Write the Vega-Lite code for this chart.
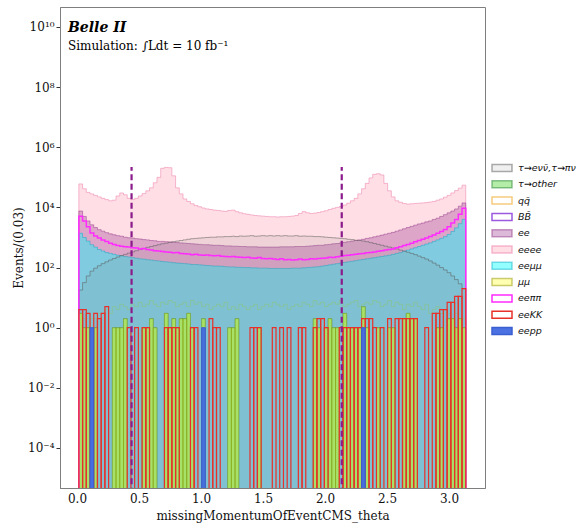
{
  "$schema": "https://vega.github.io/schema/vega-lite/v6.json",
  "width": 425,
  "height": 481,
  "autosize": {"type": "none"},
  "padding": {"left": 60, "top": 7, "right": 93, "bottom": 36},
  "background": "white",
  "title": {
    "text": "Belle II",
    "subtitle": "Simulation: ∫Ldt = 10 fb⁻¹",
    "anchor": "start",
    "frame": "group",
    "offset": -45,
    "dx": 8,
    "font": "DejaVu Serif",
    "fontSize": 14,
    "fontWeight": "bold",
    "fontStyle": "italic",
    "color": "#000000",
    "subtitleFont": "DejaVu Serif",
    "subtitleFontSize": 12,
    "subtitleColor": "#000000",
    "subtitlePadding": 6
  },
  "encoding": {
    "x": {
      "field": "x0",
      "type": "quantitative",
      "scale": {"domain": [-0.1371, 3.2903], "nice": false, "zero": false},
      "title": "missingMomentumOfEventCMS_theta",
      "axis": {"values": [0, 0.5, 1, 1.5, 2, 2.5, 3], "format": ".1f", "ticks": false, "labelPadding": 5, "titlePadding": 6, "labelFlush": false}
    }
  },
  "layer": [
    {
      "data": {
        "values": [
          {"x0": 0.015, "x1": 0.045, "tau_lep": 17.8, "tau_other": 3, "qq": 1, "ee": 7590, "eeee": 60300, "eemumu": 1380, "mumu": 3, "eepipi": 5130, "eeKK": 4},
          {"x0": 0.045, "x1": 0.075, "tau_lep": 31.6, "tau_other": 1, "qq": 2, "ee": 5010, "eeee": 41700, "eemumu": 1000, "mumu": 1, "eepipi": 3550, "eeKK": 4},
          {"x0": 0.075, "x1": 0.105, "tau_lep": 52.5, "tau_other": 1, "qq": 1, "ee": 3550, "eeee": 31600, "eemumu": 759, "mumu": 1, "eepipi": 2290, "eeKK": 3},
          {"x0": 0.105, "x1": 0.135, "tau_lep": 75.9, "qq": 2, "ee": 2630, "eeee": 28200, "eemumu": 575, "eepipi": 1410, "eepp": 1},
          {"x0": 0.135, "x1": 0.165, "tau_lep": 95.5, "tau_other": 1, "qq": 2, "ee": 2140, "eeee": 25100, "eemumu": 479, "mumu": 1, "eepipi": 1120, "eeKK": 3},
          {"x0": 0.165, "x1": 0.195, "tau_lep": 115, "qq": 3, "ee": 1820, "eeee": 22400, "eemumu": 398, "eepipi": 955, "eeKK": 2},
          {"x0": 0.195, "x1": 0.225, "tau_lep": 135, "qq": 3, "ee": 1620, "eeee": 20000, "eemumu": 355, "eepipi": 832, "eeKK": 3},
          {"x0": 0.225, "x1": 0.255, "tau_lep": 155, "qq": 4, "ee": 1450, "eeee": 18200, "eemumu": 316, "eepipi": 741, "eeKK": 5},
          {"x0": 0.255, "x1": 0.285, "tau_lep": 178, "qq": 3, "ee": 1320, "eeee": 16600, "eemumu": 295, "eepipi": 646},
          {"x0": 0.285, "x1": 0.315, "tau_lep": 200, "tau_other": 1, "qq": 5, "ee": 1230, "eeee": 17400, "eemumu": 275, "mumu": 1, "eepipi": 589},
          {"x0": 0.315, "x1": 0.345, "tau_lep": 224, "tau_other": 1, "qq": 4, "ee": 1150, "eeee": 24000, "eemumu": 257, "mumu": 1, "eepipi": 537},
          {"x0": 0.345, "x1": 0.375, "tau_lep": 251, "tau_other": 1, "qq": 6, "ee": 1100, "eeee": 30200, "eemumu": 245, "mumu": 1, "eepipi": 513},
          {"x0": 0.375, "x1": 0.405, "tau_lep": 275, "tau_other": 2, "qq": 5, "ee": 1020, "eeee": 26300, "eemumu": 234, "mumu": 2, "eepipi": 490},
          {"x0": 0.405, "x1": 0.435, "tau_lep": 302, "qq": 4, "ee": 977, "eeee": 20000, "eemumu": 224, "eepipi": 479, "eeKK": 1},
          {"x0": 0.435, "x1": 0.465, "tau_lep": 331, "qq": 6, "ee": 955, "eeee": 18200, "eemumu": 214, "eepipi": 457},
          {"x0": 0.465, "x1": 0.495, "tau_lep": 363, "qq": 5, "ee": 912, "eeee": 20000, "eemumu": 204, "eepipi": 447, "eeKK": 1},
          {"x0": 0.495, "x1": 0.525, "tau_lep": 398, "qq": 7, "ee": 891, "eeee": 24000, "eemumu": 195, "eepipi": 417},
          {"x0": 0.525, "x1": 0.555, "tau_lep": 427, "tau_other": 1, "qq": 5, "ee": 851, "eeee": 28800, "eemumu": 191, "mumu": 1, "eepipi": 427, "eeKK": 1},
          {"x0": 0.555, "x1": 0.585, "tau_lep": 468, "tau_other": 1, "qq": 6, "ee": 832, "eeee": 35500, "eemumu": 182, "mumu": 1, "eepipi": 398, "eeKK": 1},
          {"x0": 0.585, "x1": 0.615, "tau_lep": 501, "tau_other": 2, "qq": 8, "ee": 794, "eeee": 44700, "eemumu": 178, "mumu": 2, "eepipi": 380},
          {"x0": 0.615, "x1": 0.645, "tau_lep": 537, "tau_other": 1, "qq": 6, "ee": 776, "eeee": 66100, "eemumu": 170, "mumu": 1, "eepipi": 363},
          {"x0": 0.645, "x1": 0.675, "tau_lep": 575, "qq": 5, "ee": 741, "eeee": 100000, "eemumu": 166, "eepipi": 355},
          {"x0": 0.675, "x1": 0.705, "tau_lep": 617, "qq": 7, "ee": 741, "eeee": 200000, "eemumu": 158, "eepipi": 339},
          {"x0": 0.705, "x1": 0.735, "tau_lep": 646, "tau_other": 3, "qq": 6, "ee": 724, "eeee": 214000, "eemumu": 155, "mumu": 3, "eepipi": 331, "eeKK": 1},
          {"x0": 0.735, "x1": 0.765, "tau_lep": 692, "tau_other": 1, "qq": 8, "ee": 708, "eeee": 209000, "eemumu": 151, "mumu": 1, "eepipi": 324, "eeKK": 1},
          {"x0": 0.765, "x1": 0.795, "tau_lep": 724, "tau_other": 2, "qq": 7, "ee": 692, "eeee": 112000, "eemumu": 145, "mumu": 2, "eepipi": 309, "eeKK": 1},
          {"x0": 0.795, "x1": 0.825, "tau_lep": 759, "tau_other": 1, "qq": 5, "ee": 676, "eeee": 44700, "eemumu": 141, "mumu": 1, "eepipi": 316, "eeKK": 1},
          {"x0": 0.825, "x1": 0.855, "tau_lep": 794, "tau_other": 2, "qq": 6, "ee": 661, "eeee": 28200, "eemumu": 138, "mumu": 2, "eepipi": 295},
          {"x0": 0.855, "x1": 0.885, "tau_lep": 832, "tau_other": 2, "qq": 7, "ee": 646, "eeee": 19100, "eemumu": 135, "mumu": 2, "eepipi": 288},
          {"x0": 0.885, "x1": 0.915, "tau_lep": 871, "tau_other": 3, "qq": 5, "ee": 631, "eeee": 15800, "eemumu": 132, "mumu": 3, "eepipi": 282},
          {"x0": 0.915, "x1": 0.945, "tau_lep": 912, "tau_other": 1, "qq": 8, "ee": 617, "eeee": 13200, "eemumu": 126, "mumu": 1, "eepipi": 269, "eeKK": 1},
          {"x0": 0.945, "x1": 0.975, "tau_lep": 933, "qq": 6, "ee": 603, "eeee": 11500, "eemumu": 126, "eepipi": 275, "eeKK": 1},
          {"x0": 0.975, "x1": 1.005, "tau_lep": 955, "qq": 7, "ee": 589, "eeee": 10500, "eemumu": 123, "eepipi": 263},
          {"x0": 1.005, "x1": 1.035, "tau_lep": 977, "tau_other": 2, "qq": 5, "ee": 575, "eeee": 9550, "eemumu": 120, "mumu": 2, "eepipi": 257, "eepp": 1},
          {"x0": 1.035, "x1": 1.065, "tau_lep": 1000, "qq": 6, "ee": 575, "eeee": 8910, "eemumu": 117, "eepipi": 263},
          {"x0": 1.065, "x1": 1.095, "tau_lep": 1020, "qq": 4, "ee": 562, "eeee": 8510, "eemumu": 115, "eepipi": 251, "eeKK": 2},
          {"x0": 1.095, "x1": 1.125, "tau_lep": 1020, "qq": 5, "ee": 550, "eeee": 8130, "eemumu": 112, "eepipi": 245, "eeKK": 1},
          {"x0": 1.125, "x1": 1.155, "tau_lep": 1050, "qq": 6, "ee": 550, "eeee": 7940, "eemumu": 112, "eepipi": 251, "eeKK": 1},
          {"x0": 1.155, "x1": 1.185, "tau_lep": 1050, "qq": 5, "ee": 537, "eeee": 7590, "eemumu": 110, "eepipi": 240},
          {"x0": 1.185, "x1": 1.215, "tau_lep": 1070, "qq": 7, "ee": 525, "eeee": 7410, "eemumu": 107, "eepipi": 234},
          {"x0": 1.215, "x1": 1.245, "tau_lep": 1070, "tau_other": 1, "qq": 4, "ee": 525, "eeee": 7940, "eemumu": 105, "mumu": 1, "eepipi": 229},
          {"x0": 1.245, "x1": 1.275, "tau_lep": 1100, "tau_other": 1, "qq": 5, "ee": 513, "eeee": 8130, "eemumu": 105, "mumu": 1, "eepipi": 234},
          {"x0": 1.275, "x1": 1.305, "tau_lep": 1070, "tau_other": 2, "qq": 4, "ee": 513, "eeee": 7240, "eemumu": 102, "mumu": 2, "eepipi": 224},
          {"x0": 1.305, "x1": 1.335, "tau_lep": 1120, "qq": 6, "ee": 501, "eeee": 6610, "eemumu": 102, "eepipi": 219},
          {"x0": 1.335, "x1": 1.365, "tau_lep": 1100, "qq": 5, "ee": 501, "eeee": 6170, "eemumu": 100, "eepipi": 214},
          {"x0": 1.365, "x1": 1.395, "tau_lep": 1120, "qq": 4, "ee": 490, "eeee": 5890, "eemumu": 100, "eepipi": 219},
          {"x0": 1.395, "x1": 1.425, "tau_lep": 1150, "qq": 5, "ee": 490, "eeee": 5620, "eemumu": 97.7, "eepipi": 209, "eeKK": 1},
          {"x0": 1.425, "x1": 1.455, "tau_lep": 1100, "qq": 6, "ee": 490, "eeee": 5370, "eemumu": 97.7, "eepipi": 204, "eeKK": 1},
          {"x0": 1.455, "x1": 1.485, "tau_lep": 1120, "tau_other": 1, "qq": 4, "ee": 479, "eeee": 5250, "eemumu": 95.5, "mumu": 1, "eepipi": 214, "eeKK": 1},
          {"x0": 1.485, "x1": 1.515, "tau_lep": 1150, "qq": 5, "ee": 479, "eeee": 5130, "eemumu": 95.5, "eepipi": 200},
          {"x0": 1.515, "x1": 1.545, "tau_lep": 1120, "qq": 6, "ee": 479, "eeee": 5010, "eemumu": 95.5, "eepipi": 195},
          {"x0": 1.545, "x1": 1.575, "tau_lep": 1150, "qq": 5, "ee": 479, "eeee": 4900, "eemumu": 93.3, "eepipi": 200},
          {"x0": 1.575, "x1": 1.605, "tau_lep": 1120, "qq": 7, "ee": 479, "eeee": 4900, "eemumu": 93.3, "eepipi": 191, "eeKK": 1},
          {"x0": 1.605, "x1": 1.635, "tau_lep": 1150, "qq": 6, "ee": 479, "eeee": 4790, "eemumu": 93.3, "eepipi": 186},
          {"x0": 1.635, "x1": 1.665, "tau_lep": 1120, "qq": 5, "ee": 490, "eeee": 4900, "eemumu": 93.3, "eepipi": 195, "eeKK": 1},
          {"x0": 1.665, "x1": 1.695, "tau_lep": 1150, "qq": 6, "ee": 490, "eeee": 4900, "eemumu": 93.3, "eepipi": 182},
          {"x0": 1.695, "x1": 1.725, "tau_lep": 1120, "qq": 4, "ee": 490, "eeee": 5010, "eemumu": 93.3, "eepipi": 186, "eeKK": 1},
          {"x0": 1.725, "x1": 1.755, "tau_lep": 1120, "qq": 5, "ee": 490, "eeee": 5130, "eemumu": 95.5, "eepipi": 178},
          {"x0": 1.755, "x1": 1.785, "tau_lep": 1150, "qq": 6, "ee": 501, "eeee": 5370, "eemumu": 95.5, "eepipi": 182},
          {"x0": 1.785, "x1": 1.815, "tau_lep": 1100, "qq": 5, "ee": 501, "eeee": 6310, "eemumu": 95.5, "eepipi": 191, "eeKK": 1},
          {"x0": 1.815, "x1": 1.845, "tau_lep": 1120, "qq": 7, "ee": 501, "eeee": 7240, "eemumu": 97.7, "eepipi": 182, "eeKK": 1},
          {"x0": 1.845, "x1": 1.875, "tau_lep": 1100, "qq": 6, "ee": 513, "eeee": 6610, "eemumu": 100, "eepipi": 186},
          {"x0": 1.875, "x1": 1.905, "tau_lep": 1100, "qq": 5, "ee": 525, "eeee": 6310, "eemumu": 102, "eepipi": 195},
          {"x0": 1.905, "x1": 1.935, "tau_lep": 1070, "tau_other": 2, "qq": 8, "ee": 537, "eeee": 6460, "eemumu": 105, "mumu": 2, "eepipi": 191, "eeKK": 1},
          {"x0": 1.935, "x1": 1.965, "tau_lep": 1070, "tau_other": 1, "qq": 6, "ee": 550, "eeee": 6760, "eemumu": 107, "mumu": 1, "eepipi": 200, "eeKK": 2},
          {"x0": 1.965, "x1": 1.995, "tau_lep": 1050, "qq": 7, "ee": 550, "eeee": 7240, "eemumu": 112, "eepipi": 204, "eeKK": 2},
          {"x0": 1.995, "x1": 2.025, "tau_lep": 1020, "tau_other": 1, "qq": 5, "ee": 575, "eeee": 7760, "eemumu": 117, "mumu": 1, "eepipi": 209, "eeKK": 1},
          {"x0": 2.025, "x1": 2.055, "tau_lep": 1000, "tau_other": 2, "qq": 6, "ee": 589, "eeee": 8510, "eemumu": 123, "mumu": 2, "eepipi": 219},
          {"x0": 2.055, "x1": 2.085, "tau_lep": 977, "tau_other": 1, "qq": 7, "ee": 617, "eeee": 9330, "eemumu": 129, "mumu": 1, "eepipi": 214},
          {"x0": 2.085, "x1": 2.115, "tau_lep": 955, "tau_other": 1, "qq": 6, "ee": 631, "eeee": 10000, "eemumu": 135, "mumu": 1, "eepipi": 229},
          {"x0": 2.115, "x1": 2.145, "tau_lep": 933, "qq": 8, "ee": 661, "eeee": 10700, "eemumu": 141, "eepipi": 240, "eeKK": 1},
          {"x0": 2.145, "x1": 2.175, "tau_lep": 912, "tau_other": 3, "qq": 5, "ee": 692, "eeee": 12000, "eemumu": 148, "mumu": 3, "eepipi": 251, "eeKK": 1},
          {"x0": 2.175, "x1": 2.205, "tau_lep": 871, "tau_other": 1, "qq": 6, "ee": 724, "eeee": 13800, "eemumu": 155, "mumu": 1, "eepipi": 257, "eeKK": 1},
          {"x0": 2.205, "x1": 2.235, "tau_lep": 851, "tau_other": 1, "qq": 7, "ee": 759, "eeee": 16600, "eemumu": 162, "mumu": 1, "eepipi": 269, "eeKK": 1},
          {"x0": 2.235, "x1": 2.265, "tau_lep": 813, "tau_other": 1, "qq": 8, "ee": 794, "eeee": 20000, "eemumu": 170, "mumu": 1, "eepipi": 275, "eeKK": 1},
          {"x0": 2.265, "x1": 2.295, "tau_lep": 794, "tau_other": 1, "qq": 5, "ee": 832, "eeee": 28200, "eemumu": 178, "mumu": 1, "eepipi": 288, "eeKK": 1},
          {"x0": 2.295, "x1": 2.325, "tau_lep": 759, "tau_other": 5, "qq": 6, "ee": 871, "eeee": 41700, "eemumu": 186, "mumu": 5, "eepipi": 295, "eeKK": 2, "eepp": 1},
          {"x0": 2.325, "x1": 2.355, "tau_lep": 724, "tau_other": 1, "qq": 7, "ee": 933, "eeee": 63100, "eemumu": 195, "mumu": 1, "eepipi": 309, "eeKK": 2},
          {"x0": 2.355, "x1": 2.385, "tau_lep": 676, "qq": 6, "ee": 977, "eeee": 95500, "eemumu": 204, "eepipi": 316, "eeKK": 2},
          {"x0": 2.385, "x1": 2.415, "tau_lep": 631, "qq": 8, "ee": 1050, "eeee": 126000, "eemumu": 214, "eepipi": 331, "eeKK": 1},
          {"x0": 2.415, "x1": 2.445, "tau_lep": 589, "tau_other": 1, "qq": 7, "ee": 1120, "eeee": 132000, "eemumu": 224, "mumu": 1, "eepipi": 347},
          {"x0": 2.445, "x1": 2.475, "tau_lep": 550, "qq": 5, "ee": 1200, "eeee": 120000, "eemumu": 234, "eepipi": 363, "eeKK": 1},
          {"x0": 2.475, "x1": 2.505, "tau_lep": 513, "qq": 6, "ee": 1290, "eeee": 63100, "eemumu": 245, "eepipi": 380},
          {"x0": 2.505, "x1": 2.535, "tau_lep": 479, "tau_other": 1, "qq": 8, "ee": 1380, "eeee": 35500, "eemumu": 257, "mumu": 1, "eepipi": 398, "eeKK": 2},
          {"x0": 2.535, "x1": 2.565, "tau_lep": 447, "tau_other": 1, "qq": 5, "ee": 1480, "eeee": 22400, "eemumu": 275, "mumu": 1, "eepipi": 417},
          {"x0": 2.565, "x1": 2.595, "tau_lep": 417, "qq": 7, "ee": 1620, "eeee": 16600, "eemumu": 295, "eepipi": 457, "eeKK": 2},
          {"x0": 2.595, "x1": 2.625, "tau_lep": 380, "qq": 6, "ee": 1780, "eeee": 14800, "eemumu": 316, "eepipi": 490, "eeKK": 2},
          {"x0": 2.625, "x1": 2.655, "tau_lep": 355, "tau_other": 2, "qq": 4, "ee": 1950, "eeee": 13500, "eemumu": 347, "mumu": 2, "eepipi": 537, "eeKK": 2},
          {"x0": 2.655, "x1": 2.685, "tau_lep": 324, "tau_other": 3, "qq": 6, "ee": 2140, "eeee": 12900, "eemumu": 380, "mumu": 3, "eepipi": 589, "eeKK": 2},
          {"x0": 2.685, "x1": 2.715, "tau_lep": 295, "tau_other": 2, "qq": 5, "ee": 2340, "eeee": 13200, "eemumu": 417, "mumu": 2, "eepipi": 646, "eeKK": 2},
          {"x0": 2.715, "x1": 2.745, "tau_lep": 269, "tau_other": 2, "qq": 7, "ee": 2570, "eeee": 13500, "eemumu": 457, "mumu": 2, "eepipi": 724, "eeKK": 2},
          {"x0": 2.745, "x1": 2.775, "tau_lep": 240, "qq": 5, "ee": 2820, "eeee": 13800, "eemumu": 501, "eepipi": 794},
          {"x0": 2.775, "x1": 2.805, "tau_lep": 214, "qq": 4, "ee": 3020, "eeee": 14100, "eemumu": 550, "eepipi": 871},
          {"x0": 2.805, "x1": 2.835, "tau_lep": 191, "qq": 6, "ee": 3310, "eeee": 14500, "eemumu": 603, "eepipi": 955, "eeKK": 1},
          {"x0": 2.835, "x1": 2.865, "tau_lep": 166, "qq": 3, "ee": 3550, "eeee": 15100, "eemumu": 661, "eepipi": 1070},
          {"x0": 2.865, "x1": 2.895, "tau_lep": 141, "qq": 4, "ee": 3980, "eeee": 15800, "eemumu": 741, "eepipi": 1200, "eeKK": 3},
          {"x0": 2.895, "x1": 2.925, "tau_lep": 120, "tau_other": 1, "qq": 5, "ee": 4370, "eeee": 17400, "eemumu": 832, "mumu": 1, "eepipi": 1380, "eeKK": 3},
          {"x0": 2.925, "x1": 2.955, "tau_lep": 100, "tau_other": 1, "qq": 3, "ee": 5010, "eeee": 19100, "eemumu": 933, "mumu": 1, "eepipi": 1580, "eeKK": 4},
          {"x0": 2.955, "x1": 2.985, "tau_lep": 83.2, "qq": 4, "ee": 5750, "eeee": 21900, "eemumu": 1070, "eepipi": 1860, "eeKK": 4},
          {"x0": 2.985, "x1": 3.015, "tau_lep": 67.6, "tau_other": 2, "qq": 3, "ee": 6610, "eeee": 25100, "eemumu": 1260, "mumu": 2, "eepipi": 2290, "eeKK": 7},
          {"x0": 3.015, "x1": 3.045, "tau_lep": 52.5, "tau_other": 2, "qq": 2, "ee": 7590, "eeee": 30200, "eemumu": 1580, "mumu": 2, "eepipi": 3020, "eeKK": 7},
          {"x0": 3.045, "x1": 3.075, "tau_lep": 39.8, "tau_other": 1, "qq": 3, "ee": 8910, "eeee": 36300, "eemumu": 2090, "mumu": 1, "eepipi": 3980, "eeKK": 11},
          {"x0": 3.075, "x1": 3.105, "tau_lep": 28.8, "tau_other": 2, "qq": 2, "ee": 11000, "eeee": 43700, "eemumu": 2880, "mumu": 2, "eepipi": 5890, "eeKK": 11},
          {"x0": 3.105, "x1": 3.135, "tau_lep": 20.0, "tau_other": 1, "qq": 2, "ee": 14100, "eeee": 55000, "eemumu": 3980, "mumu": 1, "eepipi": 9330, "eeKK": 20},
          {"x0": 3.135, "x1": 3.165, "tau_lep": 20.0, "qq": 2, "ee": 14100, "eeee": 55000, "eemumu": 3980, "eepipi": 9330}
        ]
      },
      "transform": [
        {"fold": ["tau_lep", "tau_other", "qq", "ee", "eeee", "eemumu", "mumu", "eepipi", "eeKK", "eepp"], "as": ["sample", "count"]}
      ],
      "encoding": {
        "y": {
          "field": "count",
          "type": "quantitative",
          "stack": null,
          "scale": {"type": "log", "domain": [4.667e-6, 4.624e10], "nice": false},
          "title": "Events/(0.03)",
          "axis": {
            "values": [1e-4, 1e-2, 1, 100, 1e4, 1e6, 1e8, 1e10],
            "labelExpr": "'10' + replace(replace(replace(replace(replace(replace(replace(toString(round(log(datum.value) / LN10)), '-', '⁻'), '0', '⁰'), '1', '¹'), '2', '²'), '4', '⁴'), '6', '⁶'), '8', '⁸')",
            "tickSize": 4,
            "labelPadding": 2,
            "titlePadding": 2,
            "labelFlush": false
          }
        },
        "y2": {"datum": 1e-9},
        "fill": {
          "field": "sample",
          "type": "nominal",
          "scale": {
            "domain": ["tau_lep", "tau_other", "qq", "BB", "ee", "eeee", "eemumu", "mumu", "eepipi", "eeKK", "eepp"],
            "range": ["rgba(120,120,120,0.12)", "rgba(130,225,110,0.6)", "rgba(255,255,255,0)", "rgba(255,255,255,0)", "rgba(170,80,160,0.4)", "rgba(255,192,203,0.5)", "rgba(0,255,255,0.42)", "rgba(255,255,0,0.3)", "rgba(255,255,255,0)", "rgba(255,255,255,0)", "rgba(65,105,225,0.95)"]
          },
          "legend": {
            "orient": "none", "legendX": 436, "legendY": 155, "rowPadding": 2.3,
            "labelExpr": "datum.label == 'tau_lep' ? 'τ→eνν\u0304,τ→πν' : datum.label == 'tau_other' ? 'τ→other' : datum.label == 'qq' ? 'qq\u0304' : datum.label == 'BB' ? 'BB\u0304' : datum.label == 'eemumu' ? 'eeμμ' : datum.label == 'mumu' ? 'μμ' : datum.label == 'eepipi' ? 'eeππ' : datum.label"
          }
        },
        "stroke": {
          "field": "sample",
          "type": "nominal",
          "scale": {
            "domain": ["tau_lep", "tau_other", "qq", "BB", "ee", "eeee", "eemumu", "mumu", "eepipi", "eeKK", "eepp"],
            "range": ["rgba(90,90,90,0.5)", "rgba(50,140,60,0.55)", "rgba(240,170,40,0.6)", "#9b59e0", "rgba(150,60,140,0.5)", "rgba(240,140,180,0.6)", "rgba(0,170,200,0.45)", "rgba(150,150,0,0.5)", "#ff2bff", "#e8302a", "#3a5fd0"]
          },
          "legend": {
            "orient": "none", "legendX": 436, "legendY": 155, "rowPadding": 2.3,
            "labelExpr": "datum.label == 'tau_lep' ? 'τ→eνν\u0304,τ→πν' : datum.label == 'tau_other' ? 'τ→other' : datum.label == 'qq' ? 'qq\u0304' : datum.label == 'BB' ? 'BB\u0304' : datum.label == 'eemumu' ? 'eeμμ' : datum.label == 'mumu' ? 'μμ' : datum.label == 'eepipi' ? 'eeππ' : datum.label"
          }
        }
      },
      "layer": [
        {
          "transform": [{"filter": "datum.sample == 'eeee'"}],
          "mark": {"type": "area", "interpolate": "step-after", "clip": true, "opacity": 1, "strokeWidth": 1}
        },
        {
          "transform": [{"filter": "datum.sample == 'ee'"}],
          "mark": {"type": "area", "interpolate": "step-after", "clip": true, "opacity": 1, "strokeWidth": 1}
        },
        {
          "transform": [{"filter": "datum.sample == 'qq'"}],
          "mark": {"type": "area", "interpolate": "step-after", "clip": true, "opacity": 1, "strokeWidth": 1}
        },
        {
          "transform": [{"filter": "datum.sample == 'eemumu'"}],
          "mark": {"type": "area", "interpolate": "step-after", "clip": true, "opacity": 1, "strokeWidth": 1}
        },
        {
          "transform": [{"filter": "datum.sample == 'tau_lep'"}],
          "mark": {"type": "area", "interpolate": "step-after", "clip": true, "opacity": 1, "strokeWidth": 1}
        },
        {
          "transform": [{"filter": "datum.sample == 'tau_other' && datum.count > 0"}],
          "mark": {"type": "rect", "clip": true, "opacity": 1, "strokeWidth": 0.8},
          "encoding": {"x2": {"field": "x1"}}
        },
        {
          "transform": [{"filter": "datum.sample == 'mumu' && datum.count > 0"}],
          "mark": {"type": "rect", "clip": true, "opacity": 1, "strokeWidth": 0.6},
          "encoding": {"x2": {"field": "x1"}}
        },
        {
          "transform": [{"filter": "datum.sample == 'eepipi'"}],
          "mark": {"type": "area", "interpolate": "step-after", "clip": true, "opacity": 1, "strokeWidth": 1.5}
        },
        {
          "transform": [{"filter": "datum.sample == 'eeKK' && datum.count > 0"}],
          "mark": {"type": "rect", "clip": true, "opacity": 1, "strokeWidth": 1.2},
          "encoding": {"x2": {"field": "x1"}}
        },
        {
          "transform": [{"filter": "datum.sample == 'eepp' && datum.count > 0"}],
          "mark": {"type": "rect", "clip": true, "opacity": 1, "strokeWidth": 1},
          "encoding": {"x2": {"field": "x1"}}
        }
      ]
    },
    {
      "data": {"values": [{"x0": 0.44}, {"x0": 2.135}]},
      "mark": {"type": "rule", "clip": true, "strokeDash": [6, 3.5], "strokeWidth": 2.2, "color": "#8b1a8b"},
      "encoding": {
        "y": {"datum": 1e-9, "type": "quantitative", "scale": {"type": "log", "domain": [4.667e-6, 4.624e10], "nice": false}},
        "y2": {"datum": 220000}
      }
    }
  ],
  "config": {
    "view": {"stroke": "#7f7f7f", "strokeWidth": 1},
    "axis": {
      "labelFont": "DejaVu Serif",
      "labelFontSize": 12,
      "labelColor": "#111111",
      "titleFont": "DejaVu Serif",
      "titleFontSize": 12,
      "titleFontWeight": "normal",
      "titleColor": "#111111",
      "domainColor": "#7f7f7f",
      "tickColor": "#333333",
      "grid": false
    },
    "legend": {
      "title": null,
      "symbolType": "M-2,-0.7H2V0.7H-2Z",
      "symbolSize": 100,
      "symbolStrokeWidth": 1.5,
      "symbolOpacity": 1,
      "labelFont": "DejaVu Sans",
      "labelFontStyle": "italic",
      "labelFontSize": 9.5,
      "labelColor": "#111111",
      "labelOffset": 10,
      "labelLimit": 200
    }
  }
}
